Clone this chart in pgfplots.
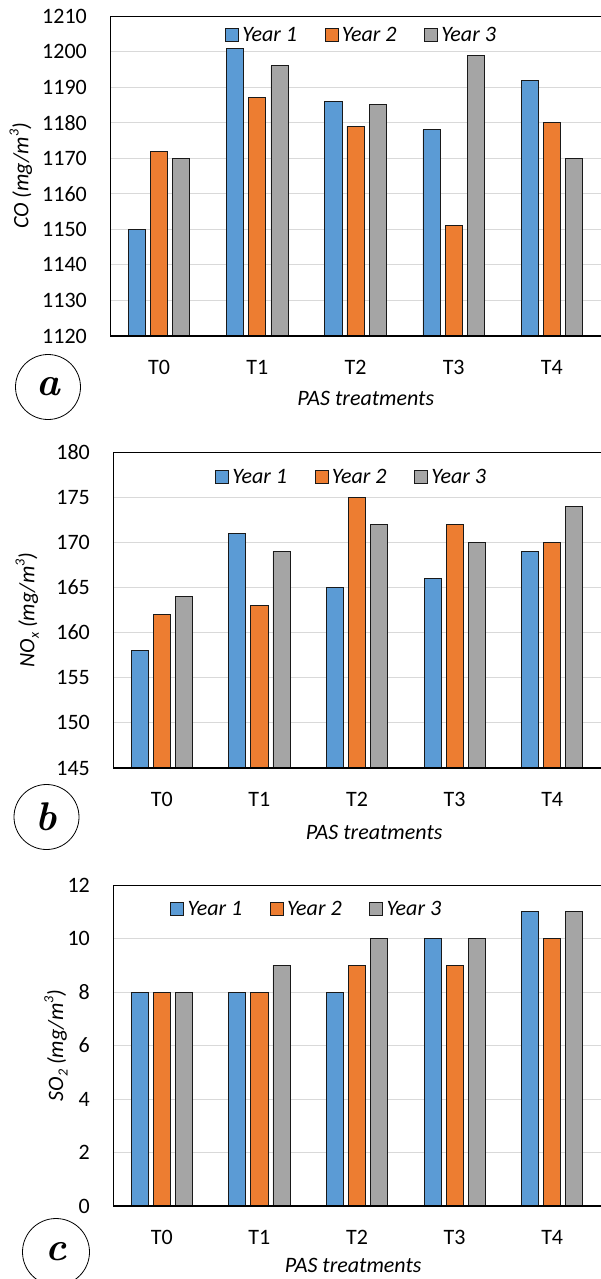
\documentclass[border=0pt]{standalone}
\usepackage{pgfplots}
\pgfplotsset{compat=1.18}
\usepackage{fontspec}
\newfontfamily\carl{Carlito}
\definecolor{cb}{HTML}{5B9BD5}
\definecolor{co}{HTML}{ED7D31}
\definecolor{cg}{HTML}{A5A5A5}
\definecolor{gridc}{HTML}{D9D9D9}
\newcommand\sups[1]{\raisebox{0.45em}{\fontsize{14}{14}\selectfont #1}}
\newcommand\subs[1]{\raisebox{-0.2em}{\fontsize{14}{14}\selectfont #1}}
\newcommand\fs{\carl\fontsize{22}{26}\selectfont}
\tikzset{myframe/.style={black, line width=1.2pt}}
\pgfplotsset{
  panel/.style={
    scale only axis,
    xmin=-0.5, xmax=4.5,
    xtick={0,1,2,3,4}, xticklabels={T0,T1,T2,T3,T4},
    major tick length=0pt,
    ymajorgrids, grid style={gridc, line width=1pt},
    axis line style={draw=none},
    tick label style={font=\fs},
    /pgf/number format/assume math mode=true,
    /pgf/number format/set thousands separator={},
    yticklabel style={anchor=east, inner sep=0pt, xshift=-23pt},
    xticklabel style={anchor=base, inner sep=0pt, yshift=-38pt},
    label style={font=\fs\itshape},
    ylabel style={anchor=center},
    xlabel style={anchor=base},
    legend columns=3,
    legend cell align=left,
    legend style={draw=none, fill=none, inner sep=0pt, font=\fs\itshape, anchor=west,
      nodes={inner xsep=3.5pt, inner ysep=1pt},
      /tikz/every even column/.append style={column sep=24pt}},
  },
  legbox/.style={legend image code/.code={\draw[##1] (0pt,-6.5pt) rectangle (13pt,6.5pt);}},
  b1/.style={ybar, bar width=0.175, bar shift=-0.226, fill=cb, draw=black!90, line width=0.8pt, legbox},
  b2/.style={ybar, bar width=0.175, bar shift=0, fill=co, draw=black!90, line width=0.8pt, legbox},
  b3/.style={ybar, bar width=0.175, bar shift=0.226, fill=cg, draw=black!90, line width=0.8pt, legbox},
}
\begin{document}
\begin{tikzpicture}
\path[use as bounding box] (0pt,0pt) rectangle (600pt,-1279pt);
% panel a
\begin{axis}[panel, at={(110pt,-336pt)}, anchor=south west, width=491pt, height=320pt,
  ymin=1120, ymax=1210, ytick distance=10,
  ylabel={CO (mg/m\sups{3})},
  ylabel style={at={(axis description cs:-0.1816,0.5)}},
  xlabel={PAS treatments},
  xlabel style={at={(axis description cs:0.521,0)}, yshift=-69pt},
  legend style={at={(axis description cs:0.234,0.941)}}]
\addplot[b1] coordinates {(0,1150) (1,1201) (2,1186) (3,1178) (4,1192)};
\addplot[b2] coordinates {(0,1172) (1,1187) (2,1179) (3,1151) (4,1180)};
\addplot[b3] coordinates {(0,1170) (1,1196) (2,1185) (3,1199) (4,1170)};
\legend{Year 1, Year 2, Year 3}
\draw[myframe] (rel axis cs:0,1) -- (rel axis cs:1,1);
\draw[myframe] (rel axis cs:0,1) -- (rel axis cs:0,0) -- (rel axis cs:1,0);
\end{axis}
% panel b
\begin{axis}[panel, at={(113pt,-768pt)}, anchor=south west, width=488pt, height=316pt,
  ymin=145, ymax=180, ytick distance=5,
  ylabel={NO\subs{x} (mg/m\sups{3})},
  ylabel style={at={(axis description cs:-0.176,0.5)}},
  xlabel={PAS treatments},
  xlabel style={at={(axis description cs:0.535,0)}, yshift=-71pt},
  legend style={at={(axis description cs:0.209,0.921)}}]
\addplot[b1] coordinates {(0,158) (1,171) (2,165) (3,166) (4,169)};
\addplot[b2] coordinates {(0,162) (1,163) (2,175) (3,172) (4,170)};
\addplot[b3] coordinates {(0,164) (1,169) (2,172) (3,170) (4,174)};
\legend{Year 1, Year 2, Year 3}
\draw[myframe] (rel axis cs:0,1) -- (rel axis cs:1,1);
\draw[myframe] (rel axis cs:0,1) -- (rel axis cs:0,0) -- (rel axis cs:1,0);
\end{axis}
% panel c
\begin{axis}[panel, at={(113pt,-1206pt)}, anchor=south west, width=488pt, height=321pt,
  ymin=0, ymax=12, ytick distance=2,
  ylabel={SO\subs{2} (mg/m\sups{3})},
  ylabel style={at={(axis description cs:-0.117,0.5)}},
  xlabel={PAS treatments},
  xlabel style={at={(axis description cs:0.492,0)}, yshift=-66pt},
  legend style={at={(axis description cs:0.117,0.925)}}]
\addplot[b1] coordinates {(0,8) (1,8) (2,8) (3,10) (4,11)};
\addplot[b2] coordinates {(0,8) (1,8) (2,9) (3,9) (4,10)};
\addplot[b3] coordinates {(0,8) (1,9) (2,10) (3,10) (4,11)};
\legend{Year 1, Year 2, Year 3}
\draw[myframe] (rel axis cs:0,1) -- (rel axis cs:1,1);
\draw[myframe] (rel axis cs:0,1) -- (rel axis cs:0,0) -- (rel axis cs:1,0);
\end{axis}
\node[circle, draw, line width=0.8pt, minimum size=65pt, inner sep=0pt, font=\fontsize{40}{40}\selectfont\bfseries\itshape] at (48pt,-387pt) {a};
\node[circle, draw, line width=0.8pt, minimum size=65pt, inner sep=0pt, font=\fontsize{40}{40}\selectfont\bfseries\itshape] at (46.5pt,-817pt) {b};
\node[circle, draw, line width=0.8pt, minimum size=67pt, inner sep=0pt, font=\fontsize{40}{40}\selectfont\bfseries\itshape] at (56pt,-1252pt) {c};
\end{tikzpicture}
\end{document}
